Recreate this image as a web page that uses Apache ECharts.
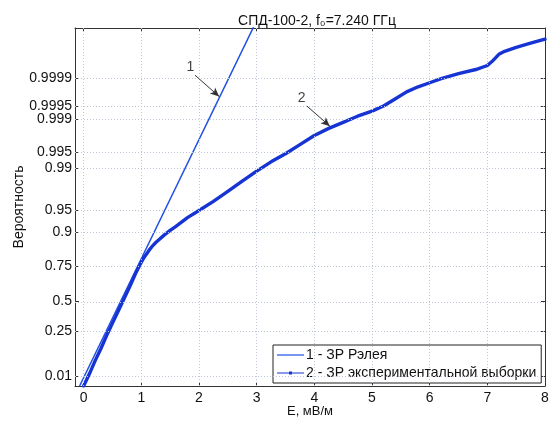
<!DOCTYPE html>
<html><head><meta charset="utf-8">
<script src="https://cdn.jsdelivr.net/npm/echarts@6/dist/echarts.min.js"></script>
<style>html,body{margin:0;padding:0;background:#fff}#c{width:553px;height:421px}</style>
</head><body><div id="c"></div>
<script>
// ---- data (probabilities) ----
const xTicks = [0, 1, 2, 3, 4, 5, 6, 7, 8];
const pTickLabels = ['0.01', '0.25', '0.5', '0.75', '0.9', '0.95', '0.99', '0.995', '0.999', '0.9995', '0.9999'];

// 1 - Rayleigh law (straight line on this paper)
const rayleighE = [-0.07, 3.0];
const rayleighP = [0, 0.9999977];

// 2 - experimental sample
const sampleE = [0.0, 0.1, 0.2, 0.3, 0.4, 0.5, 0.6, 0.7, 0.8, 0.9, 1.0, 1.05, 1.1, 1.15, 1.2, 1.25, 1.3, 1.4, 1.5,
  1.6, 1.8, 2.0, 2.25, 2.5, 2.75, 3.0, 3.25, 3.5, 3.75, 4.0, 4.25, 4.5, 4.75, 5.0, 5.2, 5.4, 5.6, 5.8, 6.0,
  6.2, 6.5, 6.8, 7.0, 7.1, 7.2, 7.3, 7.5, 7.75, 8.0];
const sampleP = [0, 0.0143, 0.0606, 0.1279, 0.2212, 0.3191, 0.4217, 0.5227, 0.6173, 0.7081, 0.7743, 0.8007,
  0.8202, 0.8384, 0.8531, 0.8650, 0.8743, 0.8914, 0.9052, 0.9163, 0.9364, 0.9499, 0.9636, 0.9749, 0.9831,
  0.9888, 0.99244, 0.99472, 0.996535, 0.99776, 0.998423, 0.998841, 0.999155, 0.999354, 0.999509, 0.999668,
  0.999778, 0.999834, 0.999869, 0.999897, 0.999924, 0.999941, 0.999954, 0.9999665, 0.9999773, 0.9999814,
  0.9999857, 0.9999891, 0.9999917];

// annotations: label text, label position, arrow start, arrow tip (E, P)
const annotText = ['1', '2'];
const annotLabelE = [1.85, 3.78];
const annotLabelP = [0.99995, 0.99969];
const annotFromE = [1.93, 3.87];
const annotFromP = [0.999917, 0.99951];
const annotToE = [2.35, 4.27];
const annotToP = [0.99971, 0.99859];

const titleText = 'СПД-100-2, f₀=7.240 ГГц';
const xName = 'E, мВ/м';
const yName = 'Вероятность';
const legendNames = ['1 - ЗР Рэлея', '2 - ЗР экспериментальной выборки'];

// Rayleigh probability-paper scale
const tf = p => Math.sqrt(-Math.log(1 - p));
const yTickVals = pTickLabels.map(s => tf(parseFloat(s)));
const Y_MAX = 3.53, X_MIN = -0.15, X_MAX = 8;

const font = 'Liberation Sans, Arial, sans-serif';
const gridColor = '#bcc6d6';
const c1 = '#1f50e2', c2 = '#1634d4';

const chart = echarts.init(document.getElementById('c'), null, {renderer: 'canvas'});
const gridLineData = xTicks.slice(0, -1).map(v => ({xAxis: v}))
  .concat(yTickVals.map(v => ({yAxis: v})));
const rayleighData = rayleighE.map((e, i) => [e, tf(rayleighP[i])]);

const option = {
  animation: false,
  backgroundColor: '#fff',
  textStyle: {fontFamily: font},
  title: {
    text: titleText,
    left: 312, top: 9, textAlign: 'center',
    textStyle: {fontFamily: font, fontSize: 14, fontWeight: 'normal', color: '#111'}
  },
  grid: {left: 75, right: 8, top: 28, bottom: 35, containLabel: false, outerBoundsMode: 'none'},
  legend: {
    data: [
      {name: legendNames[0], icon: 'path://M0,3.4 H27 V4.6 H0 Z'},
      {name: legendNames[1], icon: 'path://M0,3.4 H27 V4.6 H0 Z M12,2.5 H15 V5.5 H12 Z'}
    ],
    orient: 'vertical', left: 273, top: 345,
    itemWidth: 27, itemHeight: 8, itemGap: 4,
    padding: [3, 5, 3, 4],
    borderColor: '#222', borderWidth: 1, backgroundColor: '#fff',
    textStyle: {fontFamily: font, fontSize: 14, color: '#111', padding: [0, 0, 0, -3]}
  },
  xAxis: [{
    type: 'value', min: X_MIN, max: X_MAX,
    name: xName, nameLocation: 'middle', nameGap: 19, nameMoveOverlap: false,
    nameTextStyle: {fontFamily: font, fontSize: 13, color: '#111'},
    axisLine: {onZero: false, lineStyle: {color: '#333', width: 1}},
    axisTick: {inside: true, length: 4, customValues: xTicks, lineStyle: {color: '#333'}},
    axisLabel: {customValues: xTicks, margin: 5, fontFamily: font, fontSize: 14, color: '#111',
      formatter: v => String(Math.round(v))},
    splitLine: {show: false}
  }, {
    type: 'value', min: X_MIN, max: X_MAX, position: 'top',
    axisLine: {onZero: false, lineStyle: {color: '#333', width: 1}},
    axisTick: {inside: true, length: 4, customValues: xTicks, lineStyle: {color: '#333'}},
    axisLabel: {show: false}, splitLine: {show: false}
  }],
  yAxis: [{
    type: 'value', min: 0, max: Y_MAX,
    name: yName, nameLocation: 'middle', nameGap: 49, nameRotate: 90, nameMoveOverlap: false,
    nameTextStyle: {fontFamily: font, fontSize: 14, color: '#111'},
    axisLine: {onZero: false, lineStyle: {color: '#333', width: 1}},
    axisTick: {inside: true, length: 4, customValues: yTickVals, lineStyle: {color: '#333'}},
    axisLabel: {customValues: yTickVals, margin: 3, fontFamily: font, fontSize: 14, color: '#111',
      formatter: v => {
        let best = 0, d = 1e9;
        yTickVals.forEach((t, i) => { if (Math.abs(t - v) < d) { d = Math.abs(t - v); best = i; } });
        return pTickLabels[best];
      }},
    splitLine: {show: false}
  }, {
    type: 'value', min: 0, max: Y_MAX, position: 'right',
    axisLine: {onZero: false, lineStyle: {color: '#333', width: 1}},
    axisTick: {inside: true, length: 4, customValues: yTickVals, lineStyle: {color: '#333'}},
    axisLabel: {show: false}, splitLine: {show: false}
  }],
  series: [
    {
      name: 'grid', type: 'line', data: rayleighData, z: 1, silent: true,
      symbol: 'none', lineStyle: {opacity: 0},
      markLine: {
        silent: true, symbol: ['none', 'none'], label: {show: false},
        lineStyle: {type: [1, 2], color: gridColor, width: 1},
        emphasis: {disabled: true},
        data: gridLineData
      }
    },
    {
      name: legendNames[0], type: 'line', z: 3,
      data: rayleighData,
      symbol: 'none', clip: true,
      lineStyle: {color: c1, width: 1.5}, itemStyle: {color: c1}
    },
    {
      name: legendNames[1], type: 'line', z: 4,
      data: sampleE.map((e, i) => [e, tf(sampleP[i])]),
      symbol: 'circle', symbolSize: 4, showSymbol: false, clip: true,
      lineStyle: {color: c2, width: 3.4, join: 'round', cap: 'round'}, itemStyle: {color: c2}
    },
    {
      name: 'annot', type: 'scatter', z: 5, silent: true,
      data: annotText.map((s, i) => [annotLabelE[i], tf(annotLabelP[i]), s]),
      symbolSize: 2, itemStyle: {color: 'rgba(0,0,0,0)'},
      label: {show: true, position: 'inside', formatter: p => p.data[2],
        fontFamily: font, fontSize: 14, color: '#111'},
      markLine: {
        silent: true, symbol: ['none', 'arrow'], symbolSize: [6, 9], label: {show: false},
        lineStyle: {type: 'solid', color: '#333', width: 1},
        data: annotText.map((s, i) => [
          {coord: [annotFromE[i], tf(annotFromP[i])]},
          {coord: [annotToE[i], tf(annotToP[i])]}
        ])
      }
    }
  ]
};
chart.setOption(option);
</script>
</body></html>
